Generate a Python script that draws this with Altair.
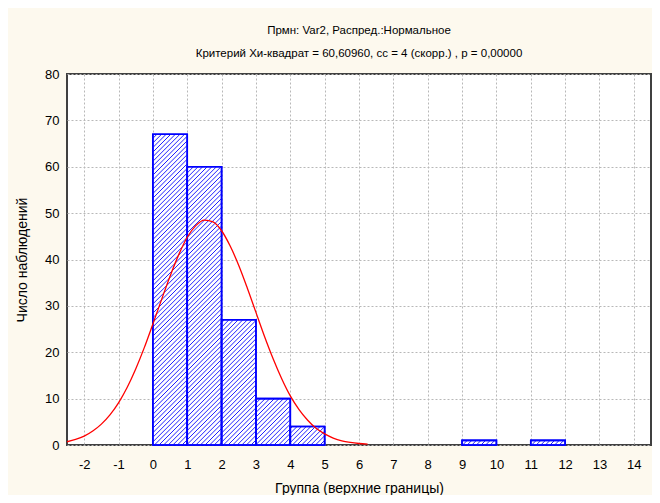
import altair as alt
import pandas as pd

# Histogram data (upper bounds of groups and counts)
bin_start = [0, 1, 2, 3, 4, 9, 11]
bin_end = [1, 2, 3, 4, 5, 10, 12]
counts = [67, 60, 27, 10, 4, 1, 1]

# Fitted normal curve
curve_x = [-2.5, -2.25, -2.0, -1.75, -1.5, -1.25, -1.0, -0.75, -0.5, -0.25, 0.0, 0.25,
           0.5, 0.75, 1.0, 1.25, 1.5, 1.75, 2.0, 2.25, 2.5, 2.75, 3.0, 3.25, 3.5,
           3.75, 4.0, 4.25, 4.5, 4.75, 5.0, 5.25, 5.5, 5.75, 6.0, 6.25]
curve_y = [0.7, 1.2, 1.9, 3.0, 4.5, 6.5, 9.1, 12.4, 16.4, 21.0, 26.1, 31.3,
           36.4, 41.0, 44.8, 47.3, 48.5, 48.1, 46.2, 42.9, 38.7, 33.8, 28.6, 23.4, 18.6,
           14.3, 10.6, 7.7, 5.4, 3.6, 2.4, 1.5, 0.9, 0.55, 0.32, 0.18]

x_ticks = list(range(-2, 15))
y_ticks = [0, 10, 20, 30, 40, 50, 60, 70, 80]

title_lines = ["Прмн: Var2, Распред.:Нормальное",
               "Критерий Хи-квадрат = 60,60960, сс = 4 (скорр.) , р = 0,00000"]
x_title = "Группа (верхние границы)"
y_title = "Число наблюдений"

X_DOM = [-2.5, 14.5]
Y_DOM = [0, 80]
W, H = 584, 371
FONT = "Liberation Sans"

bars = pd.DataFrame({"x0": bin_start, "x1": bin_end, "n": counts})
curve = pd.DataFrame({"x": curve_x, "y": curve_y})

# hatch lines ("/" at 45 degrees in screen space), clipped to each bar
kx = W / (X_DOM[1] - X_DOM[0])
ky = H / (Y_DOM[1] - Y_DOM[0])
spacing = 4.6
rows = []
for a, b, n in zip(bin_start, bin_end, counts):
    X0, X1 = (a - X_DOM[0]) * kx, (b - X_DOM[0]) * kx
    Hh = n * ky
    k_min = int((X0 - Hh) // spacing) - 1
    k_max = int(X1 // spacing) + 1
    for k in range(k_min, k_max + 1):
        c = k * spacing
        xs = max(X0, c)
        xe = min(X1, c + Hh)
        if xe - xs > 0.3:
            rows.append({
                "hx": xs / kx + X_DOM[0], "hy": (xs - c) / ky,
                "hx2": xe / kx + X_DOM[0], "hy2": (xe - c) / ky,
            })
hatch = pd.DataFrame(rows)

xscale = alt.Scale(domain=X_DOM, nice=False, zero=False)
yscale = alt.Scale(domain=Y_DOM, nice=False)

common = dict(grid=True, gridDash=[2, 2], gridColor="#b8b8b8", ticks=False,
              domain=False, labelFontSize=13, titleFontSize=14, labelFont=FONT,
              titleFont=FONT, labelColor="#000", titleColor="#000",
              titleFontWeight="normal", labelFlush=False, labelOverlap=False,
              labelExpr="'' + datum.value")
xaxis = alt.Axis(values=x_ticks, title=x_title, labelPadding=13, titlePadding=10, **common)
yaxis = alt.Axis(values=y_ticks, title=y_title, labelPadding=8, titlePadding=15, **common)

X_ENC = lambda f: alt.X(f, type="quantitative", scale=xscale, axis=xaxis)
Y_ENC = lambda f: alt.Y(f, type="quantitative", scale=yscale, axis=yaxis)

base_bars = alt.Chart(bars).mark_rect(fill="white", stroke="#0000ff", strokeWidth=1.6).encode(
    x=X_ENC("x0"), x2="x1:Q", y=Y_ENC("n"), y2=alt.datum(0),
)

hatch_layer = alt.Chart(hatch).mark_rule(color="#2020ff", strokeWidth=1).encode(
    x=X_ENC("hx"), x2="hx2:Q", y=Y_ENC("hy"), y2="hy2:Q",
)

outline = alt.Chart(bars).mark_rect(fill=None, stroke="#0000ff", strokeWidth=1.6).encode(
    x=X_ENC("x0"), x2="x1:Q", y=Y_ENC("n"), y2=alt.datum(0),
)

line = alt.Chart(curve).mark_line(color="#ff0000", strokeWidth=1.3, interpolate="monotone").encode(
    x=X_ENC("x"), y=Y_ENC("y"),
)

chart = alt.layer(base_bars, hatch_layer, outline, line).properties(
    width=W, height=H,
    title=alt.TitleParams(text=title_lines, fontSize=11.5, font=FONT, fontWeight="normal",
                          color="#000", anchor="middle", lineHeight=23, offset=9),
    autosize=alt.AutoSizeParams(type="none"),
    padding={"left": 59, "top": 66, "right": 1, "bottom": 50},
    background="#fdf9ee",
).configure_view(
    fill="white", stroke="#404040", strokeWidth=2
)

chart.save("out.html", embed_options={"renderer": "svg", "actions": False})
